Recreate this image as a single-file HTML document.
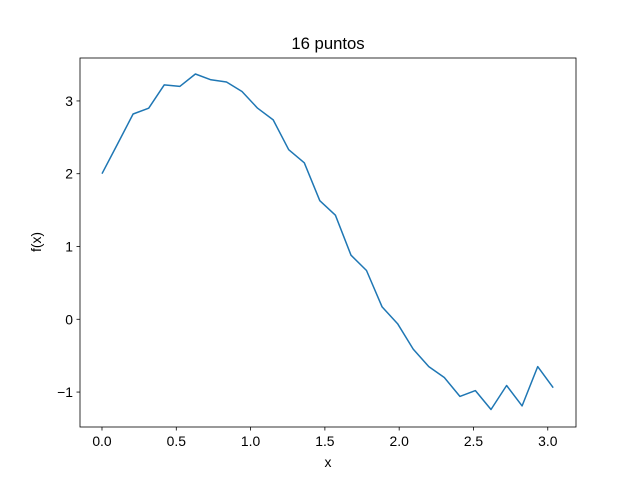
<!DOCTYPE html>
<html><head><meta charset="utf-8"><style>
body{margin:0;background:#fff;}
svg{display:block;font-family:"Liberation Sans","DejaVu Sans",sans-serif;}
</style></head><body>
<svg id="chart" width="640" height="480">
<rect width="640" height="480" fill="#fff"/>
<text x="328" y="49" font-size="16.7" text-anchor="middle">16 puntos</text>
<g id="plot"></g>
<rect x="80" y="58" width="496" height="369" fill="none" stroke="#000" stroke-width="0.8"/>
<text x="328" y="467" font-size="13.9" text-anchor="middle">x</text>
<text transform="translate(41,242) rotate(-90)" font-size="13.9" text-anchor="middle">f(x)</text>
</svg>
<script>
const yValues=[2.0,2.41,2.82,2.90,3.22,3.20,3.37,3.29,3.26,3.13,2.90,2.74,2.33,2.15,1.63,1.43,0.88,0.67,0.17,-0.06,-0.41,-0.65,-0.80,-1.06,-0.98,-1.24,-0.91,-1.19,-0.65,-0.94];
const xStep=Math.PI/30;
const xTicks=[0,0.5,1,1.5,2,2.5,3];
const xTickLabels=["0.0","0.5","1.0","1.5","2.0","2.5","3.0"];
const yTicks=[-1,0,1,2,3];
const yTickLabels=["\u22121","0","1","2","3"];
const NS="http://www.w3.org/2000/svg";
const L=80,R=576,T=58,B=427,xmin=-0.148,xmax=3.19,ymin=-1.48,ymax=3.59;
const sx=v=>L+(v-xmin)/(xmax-xmin)*(R-L);
const sy=v=>B-(v-ymin)/(ymax-ymin)*(B-T);
const g=document.getElementById('plot');
function mk(t,a){const e=document.createElementNS(NS,t);for(const k in a)e.setAttribute(k,a[k]);g.appendChild(e);return e;}
xTicks.forEach((v,i)=>{
 const l=mk('line',{x1:sx(v),x2:sx(v),y1:B,y2:B+3.5,stroke:'#000','stroke-width':0.8});
 
 
 const t=mk('text',{x:sx(v),y:B+19,'font-size':13.9,'text-anchor':'middle'});t.textContent=xTickLabels[i];
 
 
});
yTicks.forEach((v,i)=>{
 const l=mk('line',{x1:L-3.5,x2:L,y1:sy(v),y2:sy(v),stroke:'#000','stroke-width':0.8});
 
 
 const t=mk('text',{x:L-7,y:sy(v)+5,'font-size':13.9,'text-anchor':'end'});t.textContent=yTickLabels[i];
 
 
});
const pts=yValues.map((v,i)=>sx(i*xStep).toFixed(1)+','+sy(v).toFixed(1)).join(' ');
const p=mk('polyline',{points:pts,fill:'none',stroke:'#1f77b4','stroke-width':1.5,'stroke-linejoin':'round'});


</script>
</body></html>
